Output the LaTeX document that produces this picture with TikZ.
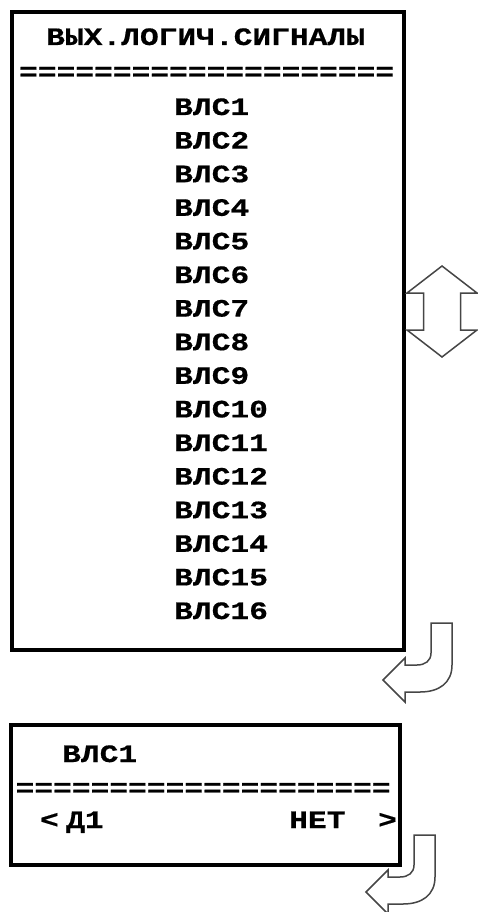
\documentclass[tikz,border=0pt]{standalone}
\usepackage{fontspec}
\newfontfamily\lcdfont{Liberation Mono}[FakeStretch=1.25,FakeBold=0.6]
\definecolor{arrowgray}{RGB}{70,70,70}
\begin{document}
\begin{tikzpicture}[x=1pt,y=-1pt,
  frame/.style={draw=black,line width=4pt},
  lcd/.style={font=\lcdfont\bfseries\fontsize{25}{25}\selectfont,inner sep=0pt,anchor=base west},
  arrowshape/.style={draw=arrowgray,line width=1.5pt,fill=white,line join=miter},
  hookarrow/.pic={
    \draw[arrowshape] (0,0) -- (21,0) -- (21,42) .. controls (21,60) and (8,69) .. (-11,69)
      -- (-26,69) -- (-26,79) -- (-48,57) -- (-26,35) -- (-26,42) -- (-14,42)
      .. controls (-6,42) and (0,38) .. (0,30) -- cycle;
  }]
\useasboundingbox (0,0) rectangle (477,912);
% top screen
\draw[frame] (12,12) coordinate (tl) rectangle (404,649.5) coordinate (tr);
\node[lcd] (title) at (46,45) {ВЫХ.ЛОГИЧ.СИГНАЛЫ};
\node[lcd] (sep1) at (19,80) {====================};
\foreach \i in {1,...,16}
  \node[lcd] (v\i) at (174,{115+33.6*(\i-1)}) {ВЛС\i};
% scroll arrow
\draw[arrowshape] (442,266) -- (477,293) -- (460.5,293) -- (460.5,330) -- (477,330)
  -- (442,357) -- (407,330) -- (423.5,330) -- (423.5,293) -- (407,293) -- cycle;
% hook arrows
\pic at (431,623) {hookarrow};
% bottom screen
\draw[frame] (11,725) coordinate (bl) rectangle (400,865) coordinate (br);
\node[lcd] (sub) at (62,762) {ВЛС1};
\node[lcd] (sep2) at (15.5,796) {====================};
\node[lcd] (lt) at (40,828) {<};
\node[lcd] (d1) at (66,828) {Д1};
\node[lcd] (net) at (289,828) {НЕТ};
\node[lcd] (gt) at (378,828) {>};
\pic at (414,835) {hookarrow};
\end{tikzpicture}
\end{document}
